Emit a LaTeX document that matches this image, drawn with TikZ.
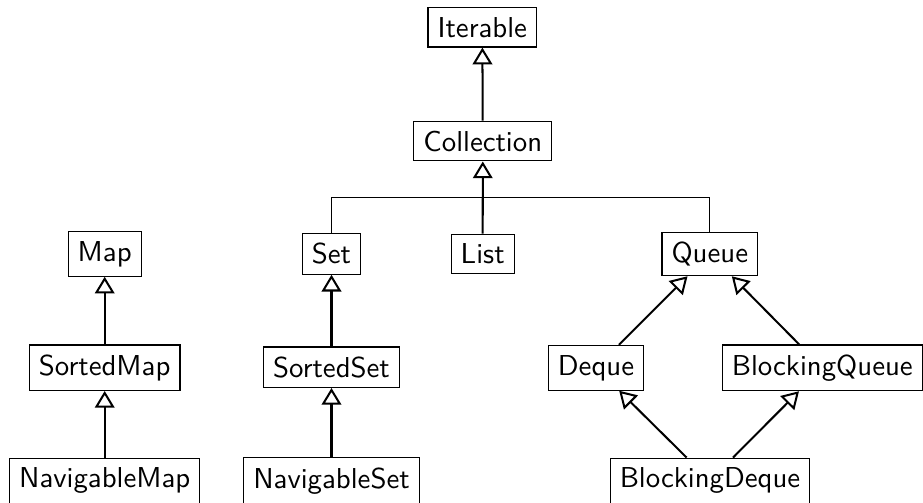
\documentclass[tikz,border=0pt]{standalone}
\usetikzlibrary{arrows.meta}
\begin{document}
\begin{tikzpicture}[x=0.34722pt, y=-0.34722pt,
  cls/.style={draw, line width=0.4pt, font=\sffamily, inner sep=3.33pt},
  inherit/.style={line width=0.7pt, -{Triangle[open, length=5.8pt, width=6.8pt]}},
  joinline/.style={line width=0.4pt}]
\useasboundingbox (0,0) rectangle (923,502);
% nodes
\node[cls] (iterable) at (482.3,27.3) {Iterable};
\node[cls] (collection) at (482.8,141) {Collection};
\node[cls] (set) at (331.5,254) {Set};
\node[cls] (list) at (482.7,254) {List};
\node[cls] (queue) at (709.8,254) {Queue};
\node[cls] (map) at (104.7,253.8) {Map};
\node[cls] (sortedmap) at (104.7,367.7) {SortedMap};
\node[cls] (navmap) at (104.7,480.7) {NavigableMap};
\node[cls] (sortedset) at (331.5,367.2) {SortedSet};
\node[cls] (navset) at (331.5,480.7) {NavigableSet};
\node[cls] (deque) at (596,367.8) {Deque};
\node[cls] (bqueue) at (822.3,367.8) {BlockingQueue};
\node[cls] (bdeque) at (710,480.7) {BlockingDeque};
\coordinate (bar) at (482.7,197.7);
% connectors
\draw[inherit] (collection) -- (iterable);
\draw[joinline] (set) |- (bar) -| (queue);
\draw[inherit] (list) -- (collection);
\draw[inherit] (sortedmap) -- (map);
\draw[inherit] (navmap) -- (sortedmap);
\draw[inherit] (sortedset) -- (set);
\draw[inherit] (navset) -- (sortedset);
\draw[inherit] (deque) -- (queue);
\draw[inherit] (bqueue) -- (queue);
\draw[inherit] (bdeque) -- (deque);
\draw[inherit] (bdeque) -- (bqueue);
\end{tikzpicture}
\end{document}
